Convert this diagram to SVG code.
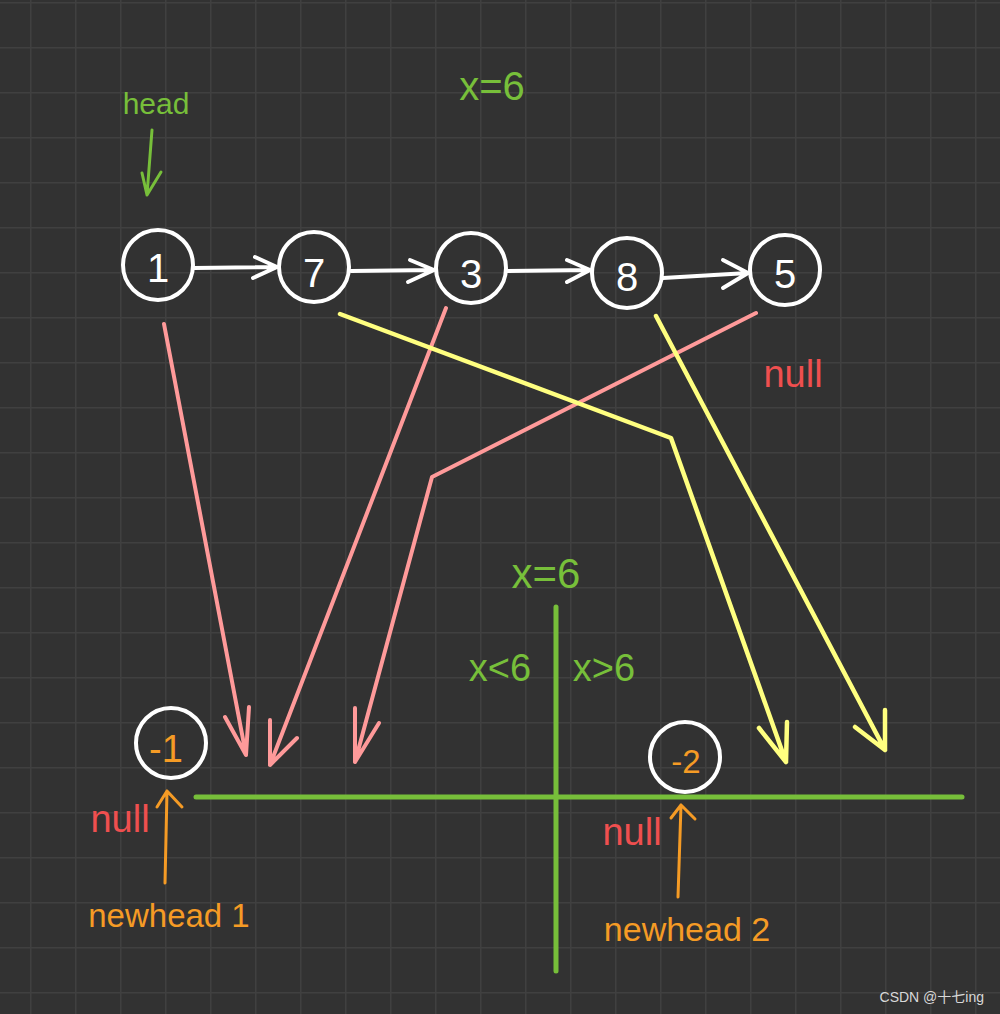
<svg xmlns="http://www.w3.org/2000/svg" width="1000" height="1014" viewBox="0 0 1000 1014">
  <defs>
    <pattern id="grid" patternUnits="userSpaceOnUse" x="30" y="2" width="45" height="45">
      <path d="M0.75,0 V45 M0,0.75 H45" stroke="#404040" stroke-width="1.5" fill="none"/>
    </pattern>
    <style>
      .w { stroke: #ffffff; stroke-width: 4; fill: none; stroke-linecap: round; stroke-linejoin: round; }
      .p { stroke: #ff9a9a; stroke-width: 4; fill: none; stroke-linecap: round; stroke-linejoin: round; }
      .y { stroke: #ffff80; stroke-width: 4.5; fill: none; stroke-linecap: round; stroke-linejoin: round; }
      .g { stroke: #77bf3a; stroke-width: 5; fill: none; stroke-linecap: round; stroke-linejoin: round; }
      .gt { stroke: #77bf3a; stroke-width: 3; fill: none; stroke-linecap: round; stroke-linejoin: round; }
      .o { stroke: #f59b25; stroke-width: 3; fill: none; stroke-linecap: round; stroke-linejoin: round; }
      .node { fill: none; stroke: #ffffff; stroke-width: 4; }
      .t { font-family: "Liberation Sans", "DejaVu Sans", sans-serif; text-anchor: middle; }
      .lbl { fill: #ffffff; font-size: 40px; }
      .gr { fill: #77bf3a; }
      .rd { fill: #ef4f4f; font-size: 38px; }
      .or { fill: #f59b25; }
    </style>
  </defs>
  <rect width="1000" height="1014" fill="#323232"/>
  <rect width="1000" height="1014" fill="url(#grid)"/>

  <g id="connectors">
    <path class="w" d="M194,268 L276,267 M255,257 L277,267 L253,278"/>
    <path class="w" d="M351,271 L434,270 M410,260 L434,270 L408,282"/>
    <path class="w" d="M507,271 L590,270 M567,260 L590,270 L567,282"/>
    <path class="w" d="M663,278 L748,273 M723,260 L748,273 L723,288"/>

    <path class="p" d="M164,324 L246,755 M225,717 L246,755 L249,707"/>
    <path class="p" d="M446,308 L270,765 M270,720 L270,765 L297,738"/>
    <path class="p" d="M756,313 L432,477 L355,762 M355,708 L355,762 L379,723"/>

    <path class="y" d="M340,314 L671,438 L786,762 M759,728 L786,762 L787,722"/>
    <path class="y" d="M656,316 L885,750 M855,727 L885,750 L885,710"/>

    <path class="g" d="M196,797 L962,797"/>
    <path class="g" d="M556,607 L556,971"/>
    <path class="gt" d="M152,130 L147,195 M142,173 L147,195 L161,172"/>

    <path class="o" d="M165,883 L167,791 M157,807 L167,791 L182,807"/>
    <path class="o" d="M678,897 L681,805 M671,818 L681,805 L695,819"/>
  </g>

  <g id="node-1"><circle class="node" cx="158" cy="265" r="35"/><text class="t lbl" x="158" y="282">1</text></g>
  <g id="node-7"><circle class="node" cx="314" cy="267" r="35"/><text class="t lbl" x="314" y="287">7</text></g>
  <g id="node-3"><circle class="node" cx="471" cy="268" r="35"/><text class="t lbl" x="471" y="288">3</text></g>
  <g id="node-8"><circle class="node" cx="627" cy="273" r="35"/><text class="t lbl" x="627" y="291">8</text></g>
  <g id="node-5"><circle class="node" cx="785" cy="270" r="35"/><text class="t lbl" x="785" y="288">5</text></g>
  <g id="node-m1"><circle class="node" cx="171" cy="743" r="35"/><text class="t or" x="166" y="762" font-size="38">-1</text></g>
  <g id="node-m2"><circle class="node" cx="685" cy="757" r="35"/><text class="t or" x="686" y="773" font-size="33">-2</text></g>

  <g id="labels">
    <text class="t gr" x="156" y="114" font-size="30">head</text>
    <text class="t gr" x="492" y="100" font-size="40">x=6</text>
    <text class="t gr" x="546" y="588" font-size="42">x=6</text>
    <text class="t gr" x="500" y="681" font-size="38">x&lt;6</text>
    <text class="t gr" x="604" y="681" font-size="38">x&gt;6</text>
    <text class="t rd" x="793" y="387">null</text>
    <text class="t rd" x="120" y="832">null</text>
    <text class="t rd" x="632" y="845">null</text>
    <text class="t or" x="169" y="927" font-size="33">newhead 1</text>
    <text class="t or" x="687" y="941" font-size="34">newhead 2</text>
    <text x="984" y="1002" font-family="Liberation Sans, Noto Sans CJK SC, sans-serif" font-size="14" fill="#d8d8d8" text-anchor="end">CSDN @十七ing</text>
  </g>
</svg>
